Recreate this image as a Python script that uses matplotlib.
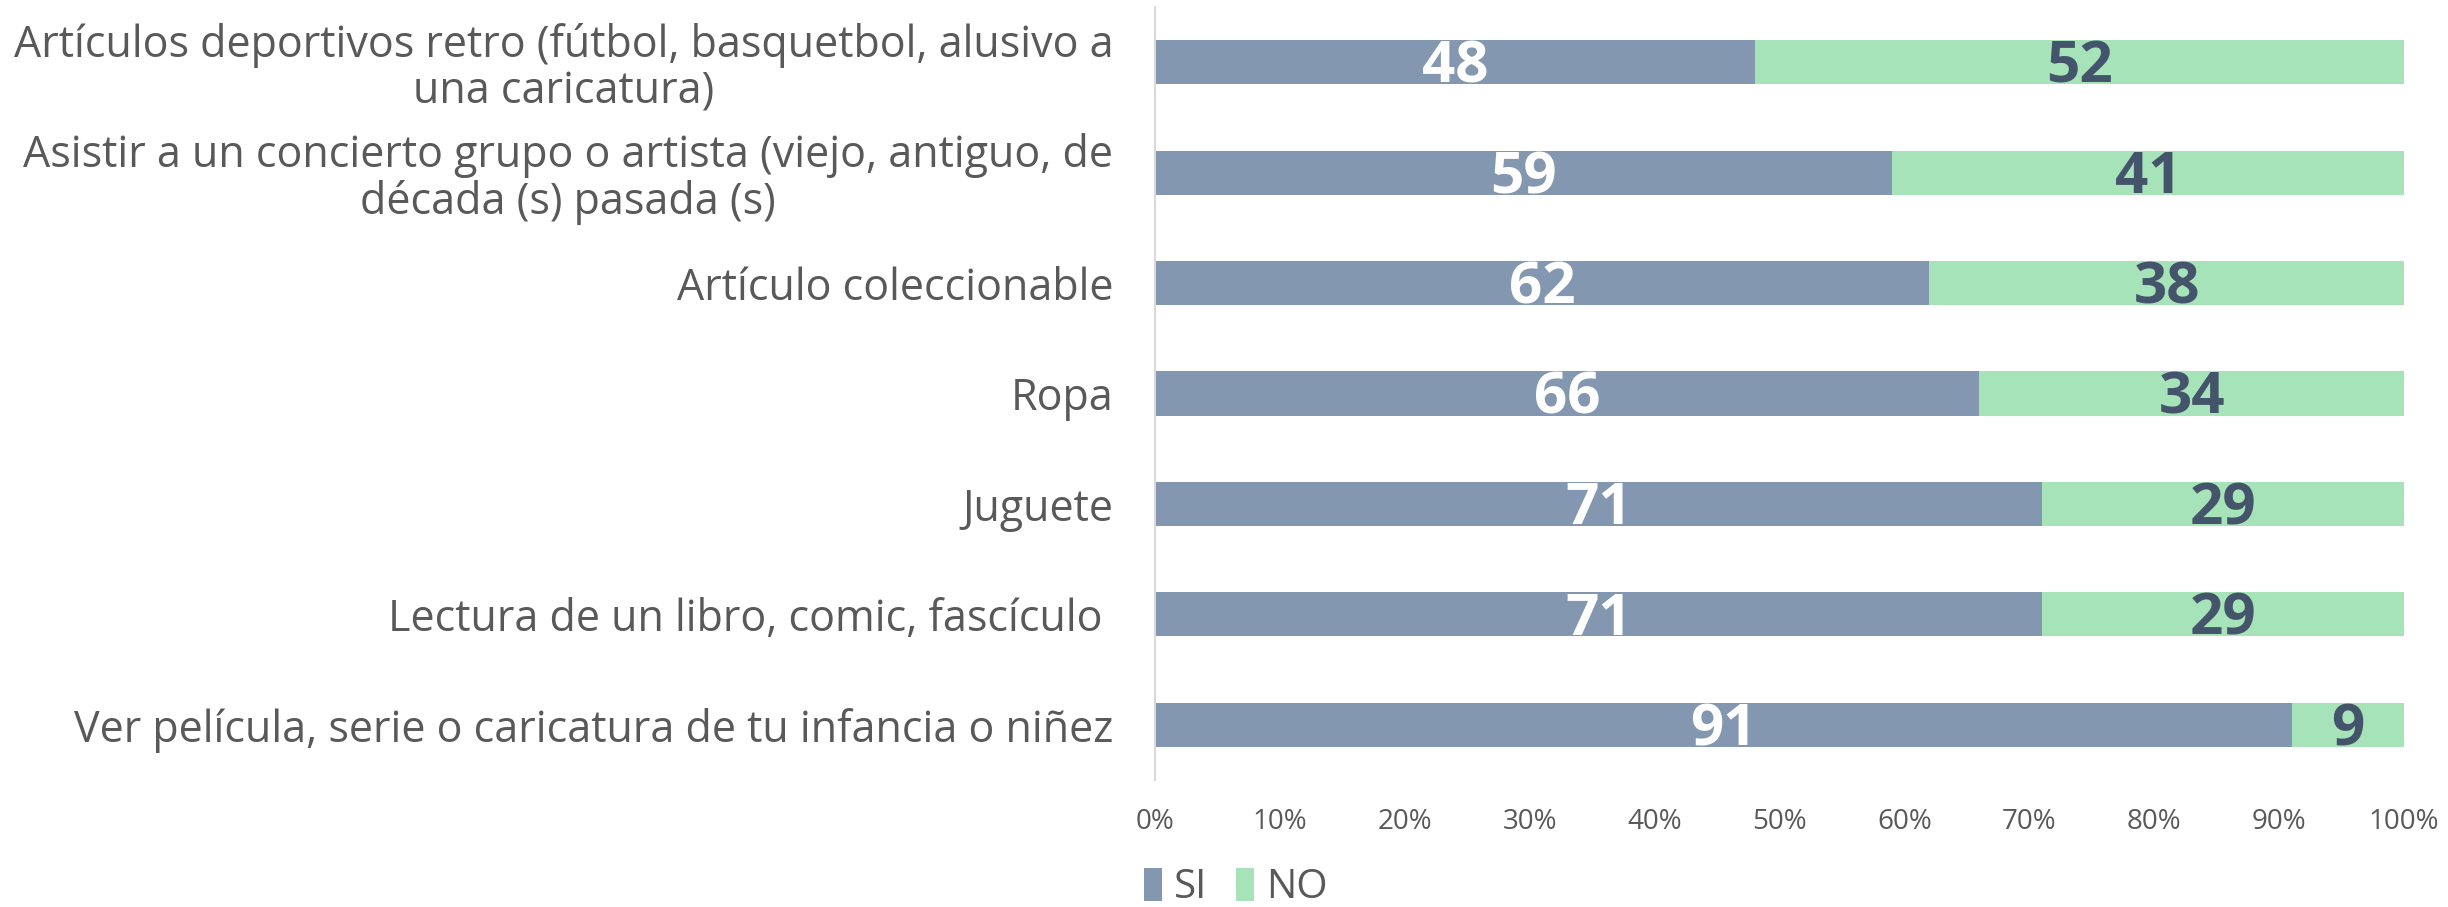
import matplotlib.pyplot as plt

# data (top to bottom as shown)
categories = [
    'Artículos deportivos retro (fútbol, basquetbol, alusivo a\nuna caricatura)',
    'Asistir a un concierto grupo o artista (viejo, antiguo, de\ndécada (s) pasada (s)',
    'Artículo coleccionable',
    'Ropa',
    'Juguete',
    'Lectura de un libro, comic, fascículo ',
    'Ver película, serie o caricatura de tu infancia o niñez',
]
si = [48, 59, 62, 66, 71, 71, 91]
no = [52, 41, 38, 34, 29, 29, 9]
ticks = [0, 10, 20, 30, 40, 50, 60, 70, 80, 90, 100]
tick_labels = ['0%', '10%', '20%', '30%', '40%', '50%', '60%', '70%', '80%', '90%', '100%']

c_si = '#8497B0'
c_no = '#A6E3B8'
font = 'Open Sans'

fig = plt.figure(figsize=(24.48, 9.07), dpi=100)
ax = fig.add_axes([1155 / 2448, 1 - 780 / 907, (2404 - 1155) / 2448, (780 - 7) / 907])

y = list(range(len(categories)))
b1 = ax.barh(y, si, height=0.4, color=c_si, label='SI')
b2 = ax.barh(y, no, left=si, height=0.4, color=c_no, label='NO')

# value labels, baseline a bit below bar centre so the digits sit in the middle
for i in y:
    ax.text(si[i] / 2, i + 0.185, str(si[i]), ha='center', va='baseline', color='white',
            fontsize=42, fontweight='bold', family=font)
    ax.text(si[i] + no[i] / 2, i + 0.185, str(no[i]), ha='center', va='baseline',
            color='#44546A', fontsize=42, fontweight='bold', family=font)

ax.set_xlim(0, 100)
ax.set_ylim(len(categories) - 0.5, -0.5)
ax.set_yticks(y)
ax.set_yticklabels(categories, fontsize=31, color='#595959', family=font,
                   multialignment='center', linespacing=1.05)
ax.set_xticks(ticks)
ax.set_xticklabels(tick_labels, fontsize=20, color='#595959', family=font)
ax.tick_params(axis='both', length=0)
ax.tick_params(axis='y', pad=30)
ax.tick_params(axis='x', pad=20)

for s in ['top', 'right', 'bottom']:
    ax.spines[s].set_visible(False)
ax.spines['left'].set_color('#D9D9D9')
ax.spines['left'].set_linewidth(1.5)

fig.legend(handles=[b1, b2], loc='center left', bbox_to_anchor=(1120 / 2448, 1 - 888 / 907),
           ncol=2, frameon=False, prop={'family': font, 'size': 29},
           handlelength=0.45, handleheight=0.9, handletextpad=0.3, columnspacing=0.7,
           labelcolor='#595959', borderpad=0.1)

fig.savefig('out.png', dpi=100)
